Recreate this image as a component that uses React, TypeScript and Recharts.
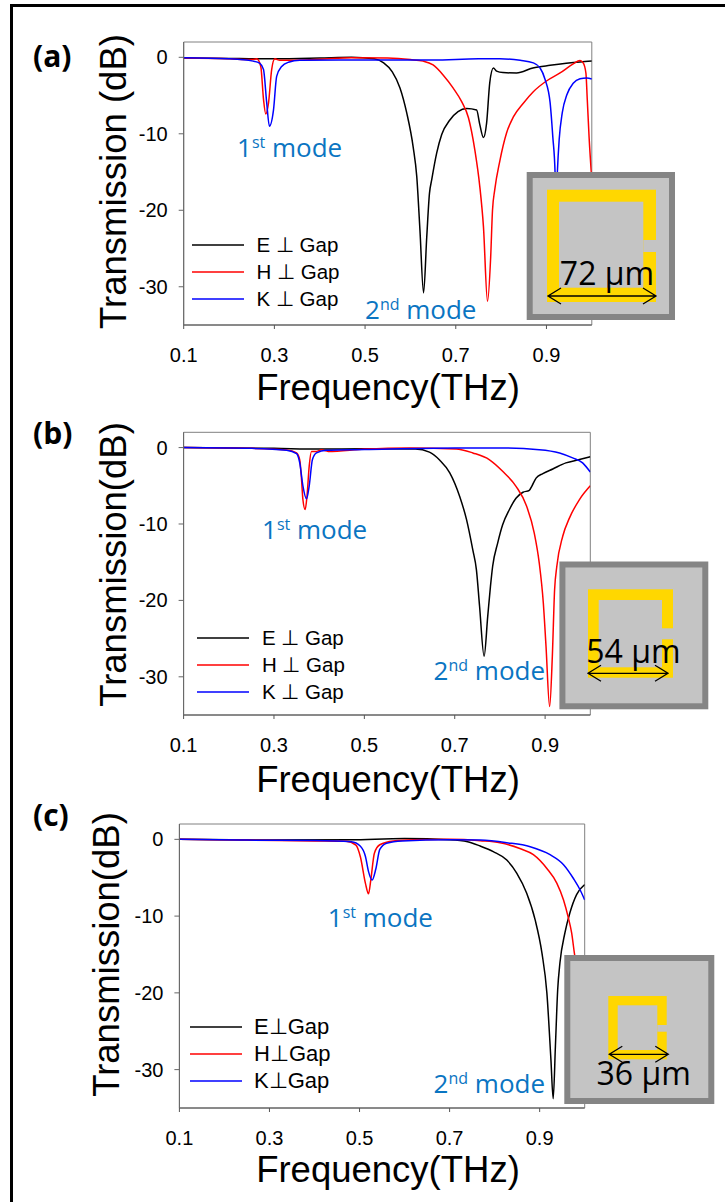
import React from 'react'
import { LineChart, Line, XAxis, YAxis, Legend, ReferenceArea, Label } from 'recharts'

const SANS = '"Liberation Sans", Arial, sans-serif'
const CAPTION = '"Open Sans", "Noto Sans", sans-serif'

const xTicks = [0.1, 0.3, 0.5, 0.7, 0.9]
const yTicks = [0, -10, -20, -30]
const seriesColors = ['#000000', '#ff0000', '#0000ff']
const spacedNames = ['E ⊥ Gap', 'H ⊥ Gap', 'K ⊥ Gap']
const tightNames = ['E⊥Gap', 'H⊥Gap', 'K⊥Gap']

// panel (a)
const aEFreq = [0.1, 0.2, 0.26, 0.3, 0.4, 0.47, 0.52, 0.541, 0.56, 0.577, 0.592, 0.606, 0.614, 0.621, 0.629, 0.636, 0.642, 0.647, 0.658, 0.669, 0.687, 0.705, 0.724, 0.746, 0.753, 0.761, 0.768, 0.775, 0.783, 0.79, 0.804, 0.834, 0.87, 0.908, 0.974, 1]
const aE = [-0.1, -0.15, -0.2, -0.2, -0.1, 0, -0.2, -0.73, -1.9, -4, -7.3, -11.7, -15.6, -22.6, -30.8, -23.5, -17.8, -16, -12.5, -10.1, -8.2, -7.1, -6.7, -6.9, -8.8, -10.5, -8.6, -3.3, -1.4, -1.8, -2, -2.05, -1.4, -1.05, -0.6, -0.5]
const aHFreq = [0.1, 0.2, 0.25, 0.261, 0.27, 0.276, 0.281, 0.287, 0.294, 0.301, 0.312, 0.4, 0.47, 0.55, 0.6, 0.628, 0.65, 0.672, 0.694, 0.713, 0.728, 0.742, 0.753, 0.761, 0.77, 0.777, 0.781, 0.786, 0.797, 0.812, 0.827, 0.849, 0.871, 0.9, 0.93, 0.959, 0.974, 0.981, 0.987, 0.99, 0.994, 1]
const aH = [-0.1, -0.2, -0.3, -0.2, -1.2, -5.5, -7.4, -6, -1.6, -0.2, -0.4, -0.25, -0.05, -0.1, -0.3, -0.5, -1, -2.3, -4, -5.8, -7.9, -12.1, -16.9, -22.1, -31.9, -26.1, -20, -17.3, -13.6, -9.9, -7.8, -6, -4.5, -3.1, -2.05, -0.87, -0.43, -0.73, -2.05, -5.5, -10.4, -16]
const aKFreq = [0.1, 0.2, 0.253, 0.268, 0.276, 0.283, 0.289, 0.298, 0.305, 0.316, 0.331, 0.356, 0.5, 0.65, 0.75, 0.797, 0.842, 0.871, 0.886, 0.897, 0.908, 0.914, 0.919, 0.921, 0.924, 0.928, 0.935, 0.945, 0.959, 0.974, 0.989, 1]
const aK = [-0.05, -0.2, -0.5, -0.8, -1.6, -5.9, -9, -6.9, -2.5, -1.2, -0.65, -0.4, -0.35, -0.35, -0.2, -0.2, -0.4, -0.73, -1.4, -2.9, -5.9, -10.4, -15.1, -20, -15.1, -10.8, -7.2, -4.9, -3.4, -2.8, -2.7, -2.85]

// panel (b)
const bEFreq = [0.1, 0.3, 0.4, 0.5, 0.613, 0.644, 0.667, 0.689, 0.711, 0.726, 0.74, 0.748, 0.755, 0.765, 0.773, 0.779, 0.784, 0.795, 0.806, 0.821, 0.836, 0.851, 0.865, 0.871, 0.88, 0.895, 0.917, 0.946, 0.976, 1]
const bE = [0, -0.1, -0.2, -0.15, -0.2, -0.6, -1.66, -3.3, -6.4, -9.4, -13.4, -16, -20.8, -27.3, -22.1, -18.2, -15.5, -12.5, -10.1, -8.1, -6.6, -5.85, -5.6, -5, -4, -3.4, -2.8, -2, -1.57, -1.2]
const bHFreq = [0.1, 0.25, 0.328, 0.35, 0.357, 0.361, 0.364, 0.369, 0.373, 0.378, 0.383, 0.394, 0.405, 0.42, 0.5, 0.6, 0.703, 0.74, 0.777, 0.806, 0.836, 0.858, 0.876, 0.887, 0.896, 0.902, 0.91, 0.916, 0.921, 0.926, 0.939, 0.954, 0.976, 1]
const bH = [0, -0.1, -0.3, -0.7, -1.6, -4.2, -6.8, -8.1, -6.4, -2.4, -0.5, -0.5, -0.3, -0.5, -0.2, -0.05, -0.17, -0.7, -1.6, -3.1, -5.1, -7.5, -11.2, -15.1, -20.3, -26, -33.9, -27.3, -18.6, -15.5, -11.6, -9.2, -6.8, -5]
const bKFreq = [0.1, 0.25, 0.328, 0.35, 0.357, 0.364, 0.372, 0.378, 0.385, 0.394, 0.416, 0.5, 0.7, 0.8, 0.887, 0.932, 0.961, 0.983, 1]
const bK = [0, -0.1, -0.35, -0.8, -2, -5, -6.7, -5, -1.6, -0.7, -0.35, -0.25, -0.05, -0.05, -0.27, -0.7, -1.35, -2, -3.2]

// panel (c)
const cEFreq = [0.1, 0.3, 0.48, 0.6, 0.7, 0.74, 0.768, 0.797, 0.827, 0.849, 0.871, 0.89, 0.905, 0.916, 0.925, 0.93, 0.935, 0.94, 0.945, 0.956, 0.967, 0.982, 1]
const cE = [0, -0.1, -0.05, 0.1, -0.05, -0.3, -0.87, -1.6, -2.7, -4.4, -7, -10.5, -14.8, -20, -28.7, -33.8, -26.9, -19.6, -16.1, -12.2, -9.6, -7.2, -5.9]
const cHFreq = [0.1, 0.25, 0.4, 0.47, 0.492, 0.502, 0.513, 0.52, 0.525, 0.533, 0.545, 0.575, 0.62, 0.7, 0.768, 0.812, 0.856, 0.886, 0.916, 0.938, 0.953, 0.964, 0.971, 0.977, 0.99, 1]
const cH = [0, -0.1, -0.2, -0.25, -0.74, -2.3, -5.7, -7.1, -5.3, -1.8, -0.7, -0.2, -0.05, 0, -0.18, -0.44, -1.2, -2, -3.8, -5.7, -7.9, -10.3, -12.2, -14.8, -20, -24]
const cKFreq = [0.1, 0.25, 0.4, 0.482, 0.502, 0.513, 0.52, 0.528, 0.536, 0.545, 0.56, 0.595, 0.7, 0.768, 0.827, 0.879, 0.923, 0.953, 0.975, 0.99, 1]
const cK = [0, -0.1, -0.15, -0.3, -0.9, -2.2, -4.2, -5.3, -3.9, -1.3, -0.5, -0.2, -0.05, -0.1, -0.44, -0.96, -2, -3.3, -5.1, -6.6, -7.9]

function zip(freq: number[], db: number[]) {
  return freq.map((f, i) => ({ f, db: db[i] }))
}

// the three Lines share dataKey "db", so the colour is looked up by name
const LegendRows = ({ payload, fontSize, names }: any) => (
  <div>
    {(payload ?? []).map((p: any) => (
      <div key={p.value} style={{ display: 'flex', alignItems: 'center', height: 27.2 }}>
        <svg width={52} height={4} style={{ marginRight: 12.5 }}>
          <line x1={0} x2={52} y1={2} y2={2} stroke={seriesColors[names.indexOf(p.value)]} strokeWidth={1.5} />
        </svg>
        <span style={{ fontFamily: SANS, fontSize, whiteSpace: 'nowrap', color: '#000' }}>{p.value}</span>
      </div>
    ))}
  </div>
)

function Panel({ top, height, plot, series, names, legend, legendFont, titleY, titleX, titleMid, yTitle }: any) {
  const xAxisHeight = 70
  const yAxisWidth = 60
  return (
    <div style={{ position: 'absolute', left: 0, top }}>
      <LineChart
        width={725}
        height={height}
        margin={{
          top: plot.top - top,
          left: plot.left - yAxisWidth,
          right: 725 - plot.right,
          bottom: height - (plot.bottom - top) - xAxisHeight,
        }}
      >
        <XAxis
          dataKey="f"
          type="number"
          domain={[0.1, 1]}
          ticks={xTicks}
          interval={0}
          height={xAxisHeight}
          allowDataOverflow
          tickSize={4}
          tickMargin={19}
          tickFormatter={(v: number) => v.toFixed(1)}
          tick={{ fontSize: 20, fill: '#000', fontFamily: SANS }}
          stroke="#555"
        >
          <Label
            content={() => (
              <text x={388} y={titleY - top} textAnchor="middle" fontSize={36.5} fontFamily={SANS} fill="#000">
                Frequency(THz)
              </text>
            )}
          />
        </XAxis>
        <YAxis
          dataKey="db"
          type="number"
          domain={[-35, 2]}
          ticks={yTicks}
          interval={0}
          width={yAxisWidth}
          allowDataOverflow
          tickSize={5}
          tickMargin={11}
          tick={{ fontSize: 20, fill: '#000', fontFamily: SANS }}
          stroke="#666"
        >
          <Label
            content={() => (
              <text
                transform={`translate(${titleX},${titleMid - top}) rotate(-90)`}
                textAnchor="middle"
                fontSize={36.5}
                fontFamily={SANS}
                fill="#000"
              >
                {yTitle}
              </text>
            )}
          />
        </YAxis>
        <ReferenceArea x1={0.1} x2={1} y1={-35} y2={2} fill="none" stroke="#808080" strokeWidth={1} />
        {series.map((d: any, i: number) => (
          <Line
            key={names[i]}
            data={d}
            dataKey="db"
            name={names[i]}
            type="monotone"
            stroke={seriesColors[i]}
            strokeWidth={1.5}
            dot={false}
            isAnimationActive={false}
          />
        ))}
        <Legend
          layout="horizontal"
          verticalAlign="middle"
          align="center"
          wrapperStyle={{ left: legend.x, top: legend.y - top, width: 'auto' }}
          content={(props: any) => <LegendRows {...props} fontSize={legendFont} names={names} />}
        />
      </LineChart>
    </div>
  )
}

// square ring inset, drawn over the curves
function Inset({ box, ring, hole, gap, text, textX, textY, arrow }: any) {
  const head = 13
  return (
    <g>
      <rect x={box[0] + 3} y={box[1] + 3} width={box[2] - box[0] - 6} height={box[3] - box[1] - 6} fill="#c4c4c4" stroke="#858585" strokeWidth={6} />
      <rect x={ring[0]} y={ring[1]} width={ring[2] - ring[0]} height={ring[3] - ring[1]} fill="#ffd700" />
      <rect x={hole[0]} y={hole[1]} width={hole[2] - hole[0]} height={hole[3] - hole[1]} fill="#c4c4c4" />
      <rect x={hole[2]} y={gap[0]} width={ring[2] - hole[2] + 1} height={gap[1] - gap[0]} fill="#c4c4c4" />
      <text x={textX} y={textY} textAnchor="middle" fontSize={32} fontFamily={CAPTION} fill="#000">
        {text}
      </text>
      <path
        d={`M${arrow[0]} ${arrow[2]}H${arrow[1]}M${arrow[0] + head} ${arrow[2] - 8}L${arrow[0]} ${arrow[2]}L${arrow[0] + head} ${arrow[2] + 8}M${arrow[1] - head} ${arrow[2] - 8}L${arrow[1]} ${arrow[2]}L${arrow[1] - head} ${arrow[2] + 8}`}
        fill="none"
        stroke="#000"
        strokeWidth={1.3}
      />
    </g>
  )
}

const Mode = ({ x, y, n, suffix }: any) => (
  <text x={x} y={y} fontSize={26} fontFamily={CAPTION} fill="#0a75c2">
    {n}
    <tspan fontSize={16} dy={-9}>{suffix}</tspan>
    <tspan dy={9}> mode</tspan>
  </text>
)

const Letter = ({ y, children }: any) => (
  <text x={33} y={y} fontSize={30} fontWeight={700} fontFamily={CAPTION} fill="#000">
    {children}
  </text>
)

export default function App() {
  return (
    <div style={{ position: 'absolute', left: 0, top: 0, width: 725, height: 1202, background: '#fff', overflow: 'hidden' }}>
      <Panel
        top={0}
        height={410}
        plot={{ left: 183.7, right: 591.8, top: 42, bottom: 325 }}
        series={[zip(aEFreq, aE), zip(aHFreq, aH), zip(aKFreq, aK)]}
        names={spacedNames}
        legend={{ x: 192, y: 231.5 }}
        legendFont={20.5}
        titleY={400}
        titleX={126}
        titleMid={181.5}
        yTitle="Transmission (dB)"
      />
      <Panel
        top={410}
        height={390}
        plot={{ left: 183.6, right: 590.3, top: 432.3, bottom: 715 }}
        series={[zip(bEFreq, bE), zip(bHFreq, bH), zip(bKFreq, bK)]}
        names={spacedNames}
        legend={{ x: 197.4, y: 624.5 }}
        legendFont={20.5}
        titleY={791.7}
        titleX={126}
        titleMid={564.5}
        yTitle="Transmission(dB)"
      />
      <Panel
        top={800}
        height={402}
        plot={{ left: 179.4, right: 584.7, top: 824, bottom: 1108 }}
        series={[zip(cEFreq, cE), zip(cHFreq, cH), zip(cKFreq, cK)]}
        names={tightNames}
        legend={{ x: 189.5, y: 1013.5 }}
        legendFont={22}
        titleY={1181.7}
        titleX={119.3}
        titleMid={954.5}
        yTitle="Transmission(dB)"
      />
      <svg width={725} height={1202} style={{ position: 'absolute', left: 0, top: 0, pointerEvents: 'none' }}>
        <path d="M11.5 1202V5.5H725" fill="none" stroke="#000" strokeWidth={3} />
        <Letter y={67}>(a)</Letter>
        <Letter y={444}>(b)</Letter>
        <Letter y={826}>(c)</Letter>
        <Mode x={237} y={156.7} n="1" suffix="st" />
        <Mode x={365} y={319.3} n="2" suffix="nd" />
        <Mode x={262} y={539} n="1" suffix="st" />
        <Mode x={433.6} y={680} n="2" suffix="nd" />
        <Mode x={327.8} y={926.7} n="1" suffix="st" />
        <Mode x={433.6} y={1092.7} n="2" suffix="nd" />
        <Inset box={[526.7, 172, 675, 320]} ring={[547, 189.7, 656, 302]} hole={[559, 201.7, 643.3, 287.7]} gap={[240, 252]} text="72 µm" textX={607} textY={285} arrow={[548, 656, 296]} />
        <Inset box={[559.4, 561.5, 708.3, 709.3]} ring={[588, 589.3, 673, 677.7]} hole={[598.7, 600, 662, 667.3]} gap={[628.3, 639.3]} text="54 µm" textX={633.4} textY={663} arrow={[588, 668, 673.3]} />
        <Inset box={[564.3, 955, 714.3, 1104]} ring={[608.3, 996, 666.7, 1059.3]} hole={[617.7, 1005.3, 657.3, 1050]} gap={[1025, 1031.7]} text="36 µm" textX={643.7} textY={1085} arrow={[609.3, 668.3, 1054.3]} />
      </svg>
    </div>
  )
}
